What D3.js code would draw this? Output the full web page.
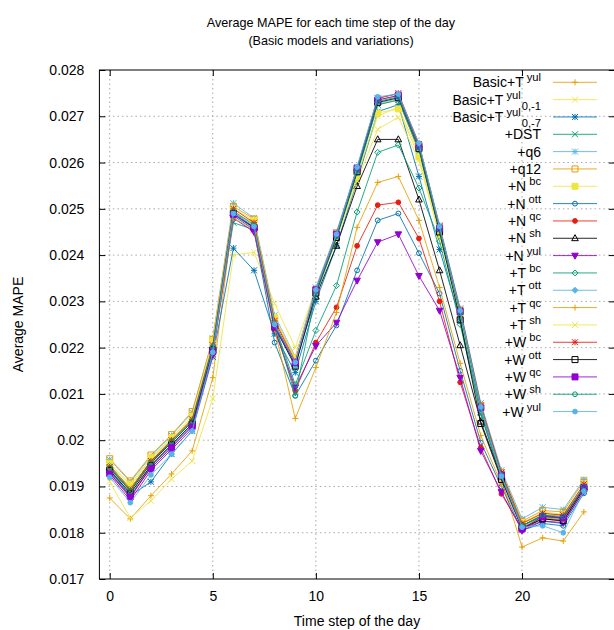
<!DOCTYPE html>
<html>
<head>
<meta charset="utf-8">
<script src="https://cdn.jsdelivr.net/npm/d3@7"></script>
<style>
  body { margin: 0; background: #fff; }
  text { font-family: "Liberation Sans", Arial, sans-serif; }
</style>
</head>
<body>
<div id="chart"></div>
<script>
// Hours of the day (x values)
var hours = [0, 1, 2, 3, 4, 5, 6, 7, 8, 9, 10, 11, 12, 13, 14, 15, 16, 17, 18, 19, 20, 21, 22, 23];

// Average MAPE per hour, one array per model
var basicTyul    = [0.01875, 0.01830, 0.01880, 0.01927, 0.01977, 0.02135, 0.02490, 0.02470, 0.02250, 0.02170, 0.02320, 0.02440, 0.02580, 0.02725, 0.02735, 0.02625, 0.02450, 0.02270, 0.02060, 0.01915, 0.01769, 0.01789, 0.01782, 0.01845];
var basicTyul01  = [0.01910, 0.01832, 0.01869, 0.01916, 0.01955, 0.02090, 0.02400, 0.02406, 0.02295, 0.02200, 0.02330, 0.02445, 0.02570, 0.02700, 0.02720, 0.02620, 0.02450, 0.02280, 0.02080, 0.01930, 0.01820, 0.01845, 0.01840, 0.01905];
var basicTyul07  = [0.01930, 0.01880, 0.01910, 0.01970, 0.02020, 0.02180, 0.02415, 0.02367, 0.02230, 0.02146, 0.02300, 0.02420, 0.02560, 0.02710, 0.02725, 0.02570, 0.02412, 0.02260, 0.02060, 0.01920, 0.01810, 0.01825, 0.01820, 0.01890];
var plusDST      = [0.01945, 0.01895, 0.01955, 0.01995, 0.02040, 0.02200, 0.02470, 0.02455, 0.02250, 0.02165, 0.02315, 0.02435, 0.02575, 0.02725, 0.02735, 0.02625, 0.02450, 0.02270, 0.02065, 0.01925, 0.01815, 0.01835, 0.01830, 0.01900];
var plusQ6       = [0.01958, 0.01910, 0.01965, 0.02010, 0.02060, 0.02220, 0.02512, 0.02480, 0.02270, 0.02180, 0.02330, 0.02450, 0.02590, 0.02740, 0.02748, 0.02640, 0.02465, 0.02285, 0.02080, 0.01935, 0.01830, 0.01855, 0.01850, 0.01915];
var plusQ12      = [0.01960, 0.01912, 0.01968, 0.02012, 0.02062, 0.02218, 0.02505, 0.02478, 0.02262, 0.02175, 0.02325, 0.02448, 0.02585, 0.02735, 0.02745, 0.02638, 0.02460, 0.02280, 0.02075, 0.01930, 0.01825, 0.01848, 0.01845, 0.01912];
var plusNbc      = [0.01950, 0.01905, 0.01962, 0.02005, 0.02052, 0.02215, 0.02500, 0.02475, 0.02265, 0.02178, 0.02325, 0.02440, 0.02570, 0.02707, 0.02716, 0.02612, 0.02445, 0.02275, 0.02070, 0.01928, 0.01822, 0.01842, 0.01838, 0.01905];
var plusNott     = [0.01935, 0.01880, 0.01940, 0.01985, 0.02030, 0.02190, 0.02485, 0.02455, 0.02211, 0.02096, 0.02172, 0.02248, 0.02367, 0.02475, 0.02490, 0.02404, 0.02317, 0.02150, 0.01995, 0.01900, 0.01805, 0.01820, 0.01815, 0.01885];
var plusNqc      = [0.01930, 0.01875, 0.01945, 0.01990, 0.02035, 0.02195, 0.02490, 0.02460, 0.02240, 0.02107, 0.02211, 0.02287, 0.02420, 0.02508, 0.02514, 0.02436, 0.02300, 0.02125, 0.01984, 0.01884, 0.01808, 0.01830, 0.01825, 0.01895];
var plusNsh      = [0.01940, 0.01890, 0.01950, 0.01995, 0.02040, 0.02200, 0.02490, 0.02460, 0.02250, 0.02165, 0.02310, 0.02420, 0.02549, 0.02650, 0.02650, 0.02520, 0.02367, 0.02205, 0.02040, 0.01920, 0.01815, 0.01838, 0.01832, 0.01898];
var plusNyul     = [0.01925, 0.01870, 0.01935, 0.01980, 0.02025, 0.02185, 0.02480, 0.02450, 0.02240, 0.02114, 0.02204, 0.02254, 0.02345, 0.02428, 0.02445, 0.02355, 0.02280, 0.02135, 0.01977, 0.01888, 0.01805, 0.01825, 0.01822, 0.01890];
var plusTbc      = [0.01945, 0.01895, 0.01955, 0.01995, 0.02040, 0.02200, 0.02490, 0.02460, 0.02250, 0.02120, 0.02237, 0.02334, 0.02493, 0.02622, 0.02638, 0.02545, 0.02430, 0.02250, 0.02055, 0.01920, 0.01815, 0.01836, 0.01832, 0.01900];
var plusTott     = [0.01938, 0.01885, 0.01945, 0.01990, 0.02035, 0.02198, 0.02492, 0.02462, 0.02248, 0.02160, 0.02315, 0.02438, 0.02578, 0.02728, 0.02738, 0.02628, 0.02452, 0.02272, 0.02065, 0.01922, 0.01812, 0.01832, 0.01828, 0.01898];
var plusTqc      = [0.01945, 0.01895, 0.01955, 0.02000, 0.02045, 0.02190, 0.02480, 0.02455, 0.02240, 0.02047, 0.02157, 0.02276, 0.02460, 0.02557, 0.02570, 0.02475, 0.02330, 0.02166, 0.02010, 0.01905, 0.01812, 0.01832, 0.01828, 0.01895];
var plusTsh      = [0.01950, 0.01900, 0.01960, 0.02002, 0.02048, 0.02208, 0.02495, 0.02468, 0.02258, 0.02172, 0.02318, 0.02435, 0.02560, 0.02672, 0.02698, 0.02605, 0.02440, 0.02270, 0.02068, 0.01925, 0.01818, 0.01840, 0.01836, 0.01902];
var plusWbc      = [0.01942, 0.01892, 0.01955, 0.02000, 0.02045, 0.02205, 0.02500, 0.02470, 0.02258, 0.02170, 0.02322, 0.02442, 0.02585, 0.02738, 0.02750, 0.02640, 0.02462, 0.02282, 0.02075, 0.01930, 0.01820, 0.01842, 0.01838, 0.01905];
var plusWott     = [0.01935, 0.01885, 0.01945, 0.01990, 0.02035, 0.02195, 0.02490, 0.02460, 0.02245, 0.02160, 0.02318, 0.02438, 0.02580, 0.02730, 0.02740, 0.02630, 0.02450, 0.02260, 0.02036, 0.01915, 0.01810, 0.01830, 0.01826, 0.01895];
var plusWqc      = [0.01928, 0.01878, 0.01940, 0.01985, 0.02030, 0.02192, 0.02488, 0.02458, 0.02245, 0.02168, 0.02325, 0.02445, 0.02588, 0.02735, 0.02745, 0.02635, 0.02458, 0.02278, 0.02070, 0.01925, 0.01808, 0.01835, 0.01832, 0.01898];
var plusWsh      = [0.01940, 0.01890, 0.01952, 0.01998, 0.02042, 0.02202, 0.02495, 0.02465, 0.02252, 0.02096, 0.02320, 0.02440, 0.02582, 0.02732, 0.02742, 0.02632, 0.02455, 0.02275, 0.02068, 0.01925, 0.01815, 0.01838, 0.01835, 0.01900];
var plusWyul     = [0.01920, 0.01865, 0.01925, 0.01970, 0.02020, 0.02190, 0.02490, 0.02462, 0.02250, 0.02168, 0.02325, 0.02445, 0.02590, 0.02742, 0.02748, 0.02642, 0.02462, 0.02280, 0.02072, 0.01922, 0.01812, 0.01815, 0.01800, 0.01890];

// Legend labels: base text, superscript, subscript
var labelBase = ["Basic+T", "Basic+T", "Basic+T", "+DST", "+q6", "+q12", "+N", "+N", "+N", "+N", "+N", "+T", "+T", "+T", "+T", "+W", "+W", "+W", "+W", "+W"];
var labelSup  = ["yul", "yul", "yul", "", "", "", "bc", "ott", "qc", "sh", "yul", "bc", "ott", "qc", "sh", "bc", "ott", "qc", "sh", "yul"];
var labelSub  = ["", "0,-1", "0,-7", "", "", "", "", "", "", "", "", "", "", "", "", "", "", "", "", ""];

// Axis ticks
var xTicks = [0, 5, 10, 15, 20];
var yTicks = [0.017, 0.018, 0.019, 0.02, 0.021, 0.022, 0.023, 0.024, 0.025, 0.026, 0.027, 0.028];

var allSeries = [basicTyul, basicTyul01, basicTyul07, plusDST, plusQ6, plusQ12, plusNbc, plusNott, plusNqc, plusNsh,
                 plusNyul, plusTbc, plusTott, plusTqc, plusTsh, plusWbc, plusWott, plusWqc, plusWsh, plusWyul];

// gnuplot-like colours and point types
var orange = "#e69f00", yellow = "#f0e442", blue = "#0072b2", green = "#009e73",
    lblue = "#56b4e9", red = "#e51e10", black = "#000000", purple = "#9400d3";
var colors  = [orange, yellow, blue, green, lblue, orange, yellow, blue, red, black,
               purple, green, lblue, orange, yellow, red, black, purple, green, lblue];
var markers = ["plus", "cross", "star", "cross", "star", "square", "squareF", "circle", "circleF", "triUp",
               "triDownF", "diamond", "diamondF", "plus", "cross", "star", "square", "squareF", "circle", "circleF"];

var svgWidth = 614;
var svgHeight = 630;

var plot = { left: 99.4, right: 614.8, top: 70, bottom: 579 };

var svg = d3.select("#chart")
  .append("svg")
  .attr("width", svgWidth)
  .attr("height", svgHeight);

var xScale = d3.scaleLinear().domain([-0.5, 24.5]).range([plot.left, plot.right]);
var yScale = d3.scaleLinear().domain([0.017, 0.028]).range([plot.bottom, plot.top]);

// marker shapes, roughly like gnuplot's point types
function markerPath(type, r) {
  var plus = `M${-r},0H${r}M0,${-r}V${r}`;
  var cross = `M${-r},${-r}L${r},${r}M${-r},${r}L${r},${-r}`;
  switch (type.replace("F", "")) {
    case "plus": return plus;
    case "cross": return cross;
    case "star": return plus + cross;
    case "square": return `M${-r},${-r}H${r}V${r}H${-r}Z`;
    case "circle": return d3.arc()({ innerRadius: 0, outerRadius: r * 0.8, startAngle: 0, endAngle: 2 * Math.PI });
    case "triUp": return `M0,${-r * 1.2}L${r * 1.1},${r * 0.8}L${-r * 1.1},${r * 0.8}Z`;
    case "triDown": return `M0,${r * 1.2}L${r * 1.1},${-r * 0.8}L${-r * 1.1},${-r * 0.8}Z`;
    case "diamond": return `M0,${-r}L${r},0L0,${r}L${-r},0Z`;
  }
}
function isFilled(type) { return type.slice(-1) === "F"; }

// grid lines (dotted)
var grid = svg.append("g").attr("stroke", "#a8a8a8").attr("stroke-dasharray", "1.5,3").attr("stroke-width", 1);
grid.selectAll(".gx").data(xTicks).enter().append("line")
  .attr("x1", d => xScale(d)).attr("x2", d => xScale(d))
  .attr("y1", plot.top).attr("y2", plot.bottom);
grid.selectAll(".gy").data(yTicks.slice(1, -1)).enter().append("line")
  .attr("x1", plot.left).attr("x2", plot.right)
  .attr("y1", d => yScale(d)).attr("y2", d => yScale(d));

// axes with inward ticks
var bottomAxis = d3.axisBottom(xScale).tickValues(xTicks).tickSize(-6).tickPadding(12).tickFormat(d3.format("d"));
var topAxis = d3.axisTop(xScale).tickValues(xTicks).tickSize(-6).tickFormat("");
var leftAxis = d3.axisLeft(yScale).tickValues(yTicks).tickSize(-6).tickPadding(15).tickFormat(d3.format(".3~f"));
var rightAxis = d3.axisRight(yScale).tickValues(yTicks).tickSize(-6).tickFormat("");

function styleAxis(g) {
  g.select(".domain").remove();
  g.selectAll("line").attr("stroke", "#000");
  g.selectAll("text").attr("font-size", 14).attr("fill", "#000")
    .attr("font-family", "'Liberation Sans', Arial, sans-serif");
}
svg.append("g").attr("transform", `translate(0, ${plot.bottom})`).call(bottomAxis).call(styleAxis);
svg.append("g").attr("transform", `translate(0, ${plot.top})`).call(topAxis).call(styleAxis);
svg.append("g").attr("transform", `translate(${plot.left}, 0)`).call(leftAxis).call(styleAxis);
svg.append("g").attr("transform", `translate(${plot.right}, 0)`).call(rightAxis).call(styleAxis);

// frame
svg.append("rect")
  .attr("x", plot.left).attr("y", plot.top)
  .attr("width", plot.right - plot.left).attr("height", plot.bottom - plot.top)
  .attr("fill", "none").attr("stroke", "#000").attr("stroke-width", 1);

// series lines and markers
var line = d3.line().x((d, i) => xScale(hours[i])).y(d => yScale(d));

var seriesGroup = svg.append("g").attr("class", "series");
allSeries.forEach(function(values, s) {
  var g = seriesGroup.append("g");
  g.append("path")
    .attr("d", line(values))
    .attr("fill", "none")
    .attr("stroke", colors[s])
    .attr("stroke-opacity", 0.85)
    .attr("stroke-width", 1);
  g.selectAll("path.pt")
    .data(values)
    .enter()
    .append("path")
    .attr("class", "pt")
    .attr("transform", (d, i) => `translate(${xScale(hours[i])}, ${yScale(d)})`)
    .attr("d", markerPath(markers[s], 3))
    .attr("fill", isFilled(markers[s]) ? colors[s] : "none")
    .attr("stroke", colors[s])
    .attr("stroke-width", 1);
});

// legend
var legend = svg.append("g").attr("class", "legend");
labelBase.forEach(function(base, i) {
  var cy = 82.3 + i * 17.33;
  var t = legend.append("text")
    .attr("x", 541).attr("y", cy + 5)
    .attr("text-anchor", "end")
    .attr("font-size", 14)
    .attr("fill", "#000");
  t.append("tspan").text(base);
  if (labelSup[i]) {
    t.append("tspan").attr("dx", 3).attr("dy", -6).attr("font-size", 11.2).text(labelSup[i]);
  }
  if (labelSub[i]) {
    t.append("tspan").attr("dx", 1).attr("dy", 11).attr("font-size", 11.2).text(labelSub[i]);
  }
  legend.append("line")
    .attr("x1", 553).attr("x2", 597).attr("y1", cy).attr("y2", cy)
    .attr("stroke", colors[i]).attr("stroke-opacity", 0.85).attr("stroke-width", 1);
  legend.append("path")
    .attr("transform", `translate(575, ${cy})`)
    .attr("d", markerPath(markers[i], 3))
    .attr("fill", isFilled(markers[i]) ? colors[i] : "none")
    .attr("stroke", colors[i])
    .attr("stroke-width", 1);
});

// titles
svg.append("text")
  .attr("x", 331).attr("y", 27)
  .attr("text-anchor", "middle").attr("font-size", 12.6)
  .text("Average MAPE for each time step of the day");
svg.append("text")
  .attr("x", 331).attr("y", 45)
  .attr("text-anchor", "middle").attr("font-size", 12.6)
  .text("(Basic models and variations)");

svg.append("text")
  .attr("transform", `translate(23, ${(plot.top + plot.bottom) / 2}) rotate(-90)`)
  .attr("text-anchor", "middle").attr("font-size", 14)
  .text("Average MAPE");

svg.append("text")
  .attr("x", 357).attr("y", 626)
  .attr("text-anchor", "middle").attr("font-size", 14)
  .text("Time step of the day");
</script>
</body>
</html>
